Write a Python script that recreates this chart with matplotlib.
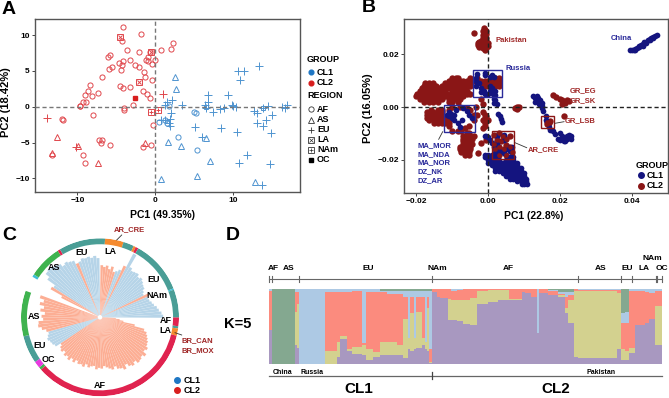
import numpy as np
import matplotlib
matplotlib.use("Agg")
import matplotlib.pyplot as plt
from matplotlib.patches import Rectangle

plt.rcParams['font.family'] = ['Liberation Sans', 'DejaVu Sans']
plt.rcParams['font.weight'] = 'bold'

W, H = 669, 398
C_BLUE, C_RED = "#4f94d0", "#e0474c"
NAVY, DRED = "#14147f", "#8a1616"
LBL_BLUE, LBL_RED = "#2a2a9a", "#a02828"

# ---------- Panel A values ----------
a_cl2_af_x = [-4.2,-1.8,-4.3,-3.6,-5.8,-6.1,-1.0,-0.7,-2.1,0.7,2.0,2.3,0,-3.2,-1.2,-0.9,-2.6,-4.6,-4.3,-4.1,-5.6,-6.0,-4.4,-2.1,-1.4,-0.4,-6.9,-8.4,-8.7,-9.0,-7.4,-8.1,-9.3,-8.9,-9.7,-8.0,-0.4,-1.6,-1.1,-0.7,-4.2,-4.5,-3.3,-2.8,-4.0,-4.0,-12.0,-11.9,-7.2,-6.8,-7.0,-5.8,-0.5,-1.6,-9.3,-9.0,-13.3,-0.3,-9.7,-1.3]
a_cl2_af_y = [11.1,10.1,9.2,8.0,7.3,7.0,7.0,7.7,7.6,7.9,8.1,8.9,6.5,6.5,6.6,6.4,5.9,6.1,5.8,6.4,5.6,5.3,5.2,5.6,4.9,6.0,4.1,3.1,2.2,1.7,1.9,1.5,0.7,0.6,0.1,-1.1,3.7,2.2,1.8,1.2,2.6,2.9,2.7,0.3,-0.2,-0.4,-1.7,-1.9,-4.7,-4.6,-5.1,-5.4,-5.3,-5.6,-6.8,-7.8,-6.8,-2.5,0.1,4.2]
a_cl2_as_x = [-12.6,-7.4,-1.3,-9.9,-13.2]
a_cl2_as_y = [-4.2,-7.9,-5.0,-5.5,-6.4]
a_cl2_eu_x = [-13.9,-10.2,1.0]
a_cl2_eu_y = [-1.5,-5.6,1.8]
a_cl2_la_x = [-4.5,-2.1,-0.6]
a_cl2_la_y = [9.7,3.4,7.7]
a_cl2_nam_x = [-0.6,0.3]
a_cl2_nam_y = [-0.7,-0.5]
a_cl2_oc_x = [-2.6]
a_cl2_oc_y = [1.2]
a_cl1_af_x = [0.5,1.2,1.5,2.9,5.4,5.2,5.0,1.8]
a_cl1_af_y = [-2.1,-1.9,-2.2,-4.2,-6.1,-0.85,-0.75,0.1]
a_cl1_as_x = [2.5,2.6,1.6,3.3,6.5,7.0,0.7,5.4,12.8]
a_cl1_as_y = [4.2,2.5,-4.9,-5.5,-4.4,-7.6,-10.1,-9.7,-10.5]
a_cl1_eu_x = [10.6,11.4,13.3,10.9,9.3,6.8,6.7,6.4,6.5,7.4,8.3,8.8,9.8,10,10.4,12.6,13.1,13.8,14.4,16.3,16.7,16.9,15,14.2,13.1,13.8,14.8,10.5,8.4,5.1,6.0,11.8,10.7,14.7,13.7,2.2,1.5,1.3,3.4,2.0,1.9,1.9,1.2,0.7,1.7]
a_cl1_eu_y = [5.0,5.0,5.7,3.7,1.6,1.6,0.7,0.3,-0.2,-0.7,-0.3,-0.1,0.3,0.1,0,-0.6,-0.9,-0.1,0.1,0,-0.1,0.3,-1.2,-1.9,-2.2,-2.7,-3.7,-3.5,-2.9,-2.8,-4.2,-6.7,-7.9,-8.0,-10.9,0.9,0.7,0.3,0.3,-0.8,-1.7,-2.7,-1.9,-1.8,-2.3]
a_cl1_nam_x = [13.8,6.5]
a_cl1_nam_y = [-0.1,0.0]
a_xticks = [-10,0,10]
a_yticks = [-10,-5,0,5,10]

# ---------- Panel B values (in thousandths) ----------
b_red_rows = {
 11:[-10,-9,-8.5,-5,-3,1,2,3], 10:[-11,-10,-9,-8,-7,-6,-5,-4,-2,-1,0,1,2,3],
 9:[-17.5,-16.5,-15.5,-12,-11,-10,-9,-8,-7,-6,-5,-2,-1,0,1,2,3],
 8:[-18,-17,-16,-15,-14.5,-13,-12,-11,-10,-9,-8,-7,-6,-5,-1,0,1,2,3],
 7:[-18.5,-17.5,-16.5,-15.5,-14.5,-13.5,-12,-11,-10,-9,-8,-7],
 6:[-19,-18,-17,-16,-15,-14,-13,-12,-10,-9,-8,-7,-6],
 5:[-19.8,-18.5,-17.5,-16.5,-15.5,-14.5,-13.5,-12.5,-11.5,-10.5,-9,-8,-7,-6,-5],
 4:[-20,-19,-18,-17,-16,-15,-14,-13,-12,-11,-10,-9,-7],
 3:[-19,-18,-17,-16,-15,-14,-13,-11,-10,-9,-8],
 2:[-18,-16.5,-15.5,-14,-11,-10,-8.5],
 -1:[-16,-14,-13], -2:[-17,-15.5,-14,-12.8], -3:[-17,-16,-15,-14,-13],
 -4:[-17,-16,-15,-14,-13,-12], -5:[-16.5,-15,-14,-13,-12], -6:[-15,-14,-13,-12,-11],
 -10:[-6,-5.5], -11:[-7,-6,-5,-4], -12:[-7,-6,-5.5,-4.5], -13:[-7,-6,-5],
 -14:[-7,-6,-5,-4.5], -15:[-8,-7,-6,-5], -16:[-8,-7,-6,-5], -17:[-7.5,-6.5,-5.5], -18:[-6.5,-5.5],
}
b_red_x = [-11,-10,-8,-6,-5,-4,-4,-5.5,-6.5,-7.5,-8.5,-10,-11,-11,-1.5,-1,-0.5,-1,-1.5,-1,0,-1,-1.5,-1.5,-2,-3.5,-3,
           -1.2,-1,-1.5,-0.7,-1.3,-0.6,-1.4,-0.8,-1.5,-0.5,-1.2,-2,-0.6,-2.6,-1.5,-0.5,-2.8,-1.8,-0.9,0,-2.9,-2,-1,0,-2.6,-1.5,-0.5,-1,-3.9,
           7.5,8,8.5,8,8, 18,19,20,20.5,21,22,21.5,20.5,22.5,21,
           1.5,3,4,5,6,2.5,3.5,1.5,5,3,4.5,6,2,6.5,3,5,16.5,17,16.5,17.2,-2.8,-1.9,-0.5]
b_red_y = [-1,0,0,-0.5,-1,-3,-5,-7,-8,-9,-9,-9,-7,-5,-2,-3,-3.5,-4,-5,-6,-5,-7,-8,1,3,0,-3,
           29.8,29,28.5,28.5,27.8,27.5,27,26.5,26,26,25.5,25,25,24.5,24.5,24.2,24,23.8,23.8,24,23.3,23,23,23,22.5,22.3,22.2,21.7,27.8,
           -0.3,0,0,-0.8,-0.5, 4.7,3.8,3.2,2.5,2,2.8,1.5,1.2,2.3,-3.3,
           -10.5,-10,-11,-12,-11,-12.5,-13,-14,-14.5,-15,-16,-15,-16,-17,-18,-18,-5.5,-6,-6.5,-5.2,-17.5,-13.7,-12.5]
b_blue_rows = {
 -18:[-1,0,1], -19:[-1,0,1,2,6,7], -20:[0,1,2,3,5,6,7], -21:[0,1,2,3,4,5,6,7,8],
 -22:[1,2,3,4,5,6,7,8], -23:[2,3,4,5,6,7,8,9], -24:[2,3,4,5,6,7,8,9], -25:[4,5,6,7,8,9,10],
 -26:[5,6,7,8,9,10], -27:[6,7,8,9,10,10.5], -28:[8,9,10,10.5], -29:[9.5,10,10.7],
}
b_blue_x = [39.5,40,40.5,41,41.5,42,42.5,43,43.5,44,44.5,45,45.5,46,46.5,47,43,44,45,46,42,41,
            -3.5,-3,-3.5,-2.5,-3.3,-1,-1,0.5,1,1.5,-2,-2,-1,0,0.5,1,0.5,1.2,1.8,2,-1.2,
            1.5,2,1.5,2.3,3.2,3.5,3.7,2.8,
            -11.5,-11,-11,-10.5,-10,-10,-9.5,-8.5,-8,-9,-7,-6,-5.5,-4.5,-7.2,-9.5,
            12.5,13,13.5,14,14.5,13,14,15,14.2,15,15,15.3,16,16,17,17.3,18,18.5,20,20.5,21,21,22,22,22.5,23.2,23,21.5,19.5,20,
            -1,-0.5,0,0.5,1,1.5,2.5,4.5,4.5,5.5,3,4,2,4.5,6,2.5,6.5,5]
b_blue_y = [21.4,21.5,21.7,22,22.3,22.7,23.4,23.8,24.5,24.7,25.3,25.7,26,26.3,26.8,27.1,23.2,24.2,25.2,26,23.2,21.7,
            11,12.5,10,9,8,12.8,12,11.5,12,11.5,7,5.5,5,5,6,7,8,5,6,4.5,6,
            3,2.5,1.5,1,-3.5,-4.5,-5.5,-2.5,
            -3,-2,-3.5,-2.5,-4,-3,-5,-6,-7.5,-1,-0.5,-1.5,-3,-4,-5,-3,
            4,3.5,4.2,3.5,2.5,2,2,1.5,1,0.5,-0.5,-1.5,-3.5,-5,-7.5,-8.5,-9,-10.3,-10,-11,-12,-13,-11,-12,-10.5,-11,-12,-13,-12,-12.5,
            -11,-11,-11.5,-12.5,-13.5,-15,-11,-10.5,-12.5,-15,-16.5,-17,-17.5,-17.5,-16.5,-14,-15,-16]
b_xticks = [-0.02,0,0.02,0.04]
b_xticklabels = ["\u22120.02","0.00","0.02","0.04"]
b_yticks = [-0.02,0,0.02]
b_yticklabels = ["\u22120.02","0.00","0.02"]

# ---------- Panel C values ----------
fan_blue_deg = [1,4,7,10,13,16,19,22,28,31,34,37,40,43,46,49,52,55,58,61,67,70,92,95,98,101,104,107,110,116,119,122,125,128,131,134,137,140,143,146,197,200,203,206,209,212]
fan_blue_len = [.80,.78,.75,.73,.70,.68,.66,.65,.62,.64,.67,.68,.70,.72,.70,.73,.72,.71,.74,.91,.65,.62,.75,.78,.76,.78,.77,.78,.75,.79,.80,.82,.80,.84,.86,.88,.89,.88,.82,.70,.68,.70,.72,.70,.69,.67]
fan_red_deg = [25,64,73,76,79,82,85,88,113,149,152,161,164,167,170,173,176,179,182,185,188,191,194,
               215,218,221,224,227,230,233,236,239,242,245,248,251,254,257,260,263,266,269,272,275,278,
               281,284,287,290,293,296,299,302,305,308,311,314,317,320,323,326,329,332,335,338,341,344,347,350,353,356]
fan_red_len = [.68,.72,.60,.66,.62,.66,.64,.66,.74,.72,.55,.80,.74,.78,.72,.76,.70,.74,.72,.78,.79,.75,.70,
               .60,.63,.65,.62,.66,.64,.67,.63,.66,.62,.65,.64,.66,.62,.65,.63,.62,.66,.64,.65,.62,.64,
               .66,.68,.65,.69,.70,.73,.68,.72,.74,.71,.75,.74,.72,.75,.70,.72,.69,.68,.66,.64,.62,.58,.45,.30,.25,.20]
ring_start = [0,-6.5,-8.2,-13.5,-138.5,-140.5,-145.5,-166,149,147,122.4,120.5,86.3,72.6,64.7,63,61,21.5,20.5]
ring_end   = [-6.5,-8.2,-13.5,-138.5,-140.5,-145.5,-166,-199.6,147,122.4,120.5,86.3,72.6,64.7,63,61,21.5,20.5,0]
ring_color = ["#e0234f","#4a9e96","#f58a2e","#e0234f","#3fb34f","#e83be0","#4a9e96","#3fb34f","#3fc0d8","#3fb34f","#e0234f","#4a9e96","#f58a2e","#4a9e96","#f58a2e","#e0234f","#4a9e96","#3fc0d8","#4a9e96"]

# ---------- Panel D values: sample edges and cumulative tops ----------
d_edges = [87,96,165,170,176,255,290,300,320,335,365,378,400,420,440,470,490,503,510,522,528,545,555,560,567,575,
           590,600,625,632,650,670,690,712,745,775,808,845,855,872,890,897,912,925,955,975,985,1003,1015,1130,1143,1155,1168,1185,1215,1228,1245,1266]
d_purple = [.46,0,.26,.22,0,.01,.10,.33,.18,.14,.13,.06,.10,.12,.13,.12,.08,.20,.18,.20,.22,.25,.20,.18,.02,
            .96,.90,.88,.59,.59,.57,.54,.52,.80,.83,.85,.85,.96,.95,.90,.41,.95,.95,.92,.90,.68,.55,.10,.08,.20,.06,.06,.15,.52,.55,.60,.25]
d_olive  = [.46,0,.70,.80,0,.17,.30,.38,.20,.23,.26,.20,.16,.30,.30,.26,.60,.35,.68,.35,.70,.35,.30,.75,.03,
            .96,.90,.88,.87,.85,.85,.86,.88,.98,.99,.99,.87,.96,.95,.90,.41,.95,.95,.92,.92,.75,.85,.98,.97,.95,.20,.18,.22,.52,.55,.60,.78]
d_salmon = [.97,0,.96,.96,0,.96,.96,.96,.96,.97,.28,.96,.96,.96,.94,.94,.90,.35,.90,.35,.90,.90,.30,.90,.20,
            1,1,1,1,.98,.99,1,1,1,1,1,1,1,1,1,.41,1,1,.97,.94,.90,.92,1,.99,.99,.55,.55,.98,.97,.96,.95,.97]
d_blue   = [1,0,1,1,1,1,1,1,1,1,1,1,1,.98,.97,.97,.97,.97,.97,.97,.97,.97,.97,.97,.98,
            1,1,1,1,1,1,1,1,1,1,1,1,1,1,1,1,1,1,.99,.96,.96,.96,1,1,1,.68,.70,1,1,1,1,1]
d_colors = ["#a898c0","#d3d18f","#fb8b7e","#adc9e4","#84a890"]
d_top_ticks = [87,96,177,577,1015,1143,1177,1248,1252,1266]

# ---------- drawing ----------
fig = plt.figure(figsize=(W/100, H/100), dpi=100, facecolor="white")
def rect(x0, y0, x1, y1):
    return [x0/W, 1-y1/H, (x1-x0)/W, (y1-y0)/H]

def frame(ax):
    for s in ax.spines.values():
        s.set_color("#555555"); s.set_linewidth(1)
    ax.tick_params(length=2, width=.7, color="#444444", labelsize=6, pad=1.5)
    ax.axhline(0, color="#777777" if ax is axa else "#222222", ls=(0,(3,2)), lw=1.0, zorder=5)
    ax.axvline(0, color="#777777" if ax is axa else "#222222", ls=(0,(3,2)), lw=1.0, zorder=5)

# A
axa = fig.add_axes(rect(34.5,19,299.5,192))
axa.set_xlim(-15.5,18.5); axa.set_ylim(-11.9,12.26)
frame(axa)
axa.set_xticks(a_xticks); axa.set_yticks(a_yticks)
ms = 3.7; mew = .7
def op(ax, x, y, m, c, size=ms):
    ax.plot(x, y, ls='', marker=m, mfc='none', mec=c, ms=size, mew=mew, zorder=3)
op(axa,a_cl2_af_x,a_cl2_af_y,'o',C_RED); op(axa,a_cl2_as_x,a_cl2_as_y,'^',C_RED,4.2); op(axa,a_cl2_eu_x,a_cl2_eu_y,'+',C_RED,5.5)
op(axa,a_cl2_la_x,a_cl2_la_y,'s',C_RED); op(axa,a_cl2_la_x,a_cl2_la_y,'x',C_RED,2.6)
op(axa,a_cl2_nam_x,a_cl2_nam_y,'s',C_RED); op(axa,a_cl2_nam_x,a_cl2_nam_y,'+',C_RED,3)
axa.plot(a_cl2_oc_x,a_cl2_oc_y,ls='',marker='s',color="#d81e1e",ms=3)
op(axa,a_cl1_af_x,a_cl1_af_y,'o',C_BLUE); op(axa,a_cl1_as_x,a_cl1_as_y,'^',C_BLUE,4.2); op(axa,a_cl1_eu_x,a_cl1_eu_y,'+',C_BLUE,5.5)
op(axa,a_cl1_nam_x,a_cl1_nam_y,'s',C_BLUE,2.5)

# B
def expand(rows):
    xs, ys = [], []
    for y, vals in rows.items():
        for v in vals:
            xs.append(v); ys.append(y)
    return xs, ys
axb = fig.add_axes(rect(404.3,19.3,668,193.3))
axb.set_xlim(-0.0234,0.0501); axb.set_ylim(-0.03257,0.0331)
frame(axb)
axb.set_xticks(b_xticks, b_xticklabels); axb.set_yticks(b_yticks, b_yticklabels)
rx, ry = expand(b_red_rows); bx, by = expand(b_blue_rows)
axb.scatter(np.array(rx+b_red_x)*1e-3, np.array(ry+b_red_y)*1e-3, s=21, color=DRED, lw=0, zorder=3)
axb.scatter(np.array(bx+b_blue_x)*1e-3, np.array(by+b_blue_y)*1e-3, s=17, color=NAVY, lw=0, zorder=4)
axb.scatter(np.array(b_red_x[-23:-3])*1e-3, np.array(b_red_y[-23:-3])*1e-3, s=11, color=DRED, lw=0, zorder=4.5)

# C
axc = fig.add_axes(rect(21,238.3,179,396.3), projection='polar')
axc.set_ylim(0,1); axc.axis('off')
for d, l in zip(fan_blue_deg, fan_blue_len):
    axc.bar(np.radians(d), l-.03, width=np.radians(2.9), bottom=.03, color="#b6d4e8", lw=0)
for d, l in zip(fan_red_deg, fan_red_len):
    axc.bar(np.radians(d), l-.03, width=np.radians(2.9), bottom=.03, color="#fcae94", lw=0)
for s, e, c in zip(ring_start, ring_end, ring_color):
    axc.bar(np.radians((s+e)/2), .075, width=np.radians(abs(s-e)), bottom=.925, color=c, lw=0)

# D
axd = fig.add_axes(rect(269,289,662,364.3))
axd.set_xlim(87,1266); axd.set_ylim(0,1); axd.axis('off')
left = np.array(d_edges[:-1]); wid = np.diff(d_edges)
tops = [np.array(t) for t in (d_purple,d_olive,d_salmon,d_blue)] + [np.ones(len(left))]
base = np.zeros(len(left))
for t, c in zip(tops, d_colors):
    axd.bar(left, np.clip(t-base,0,None), width=wid, bottom=base, align='edge', color=c, lw=0)
    base = np.maximum(base, t)

# overlay in pixels
ov = fig.add_axes([0,0,1,1]); ov.set_xlim(0,W); ov.set_ylim(H,0); ov.axis('off'); ov.patch.set_alpha(0)
def T(x,y,s,size=6.5,color='black',ha='left',va='center',**k):
    ov.text(x,y,s,fontsize=size,color=color,ha=ha,va=va,**k)
for x,y,s in [(2,10,'A'),(362,8,'B'),(2,235,'C'),(226,235,'D')]:
    T(x,y,s,size=14)
T(163,215,'PC1 (49.35%)',7.5,ha='center'); T(6,102,'PC2 (18.42%)',8,ha='center',rotation=90)
T(534,216,'PC1 (22.8%)',7.5,ha='center'); T(368,108,'PC2 (16.05%)',8,ha='center',rotation=90)
# A legend
T(307,60,'GROUP'); T(317,72.3,'CL1'); T(317,82.7,'CL2')
ov.plot([311],[72.3],'o',color="#1f77c4",ms=3.4); ov.plot([311],[82.7],'o',color="#d81e1e",ms=3.4)
T(307,96,'REGION')
reg = [('AF','o',109.3),('AS','^',119.5),('EU','+',130),('LA','s',140),('NAm','s',150),('OC','s',160)]
for n,m,y in reg:
    T(317,y,n)
    if n=='OC': ov.plot([311],[y],'s',color='black',ms=3)
    else: ov.plot([311],[y],m,mfc='none',mec='#333333',ms=3.8 if m!='+' else 5,mew=.6)
ov.plot([311],[140],'x',color='#333333',ms=2.6,mew=.5); ov.plot([311],[150],'+',color='#333333',ms=3,mew=.5)
# B labels
for x,y,s in [(496,40.7,'Pakistan'),(570,91,'GR_EG'),(570,100.7,'GR_SK'),(565,121,'GR_LSB'),(528,150,'AR_CRE')]:
    T(x,y,s,5.5,LBL_RED)
for x,y,s in [(611,38.7,'China'),(505.7,68,'Russia'),(417.7,145.3,'MA_MOR'),(417.7,154.3,'MA_NDA'),(417.7,163,'MA_NOR'),(417.7,171.7,'DZ_NK'),(417.7,180.3,'DZ_AR')]:
    T(x,y,s,5.5,LBL_BLUE)
for x0,y0,x1,y1,c in [(472.7,69.7,501.7,97,'#2a2a9a'),(443.7,105.3,474.7,132.3,'#2a2a9a'),(492,131.3,514,158.7,DRED),(541,115.7,554.3,128.3,DRED)]:
    ov.add_patch(Rectangle((x0,y0),x1-x0,y1-y0,fill=False,ec=c,lw=1))
for x,y in [((442.7,438.7),(131.7,139.3)),((515,526.7),(142.7,147.7)),((555,564),(123.3,121.7))]:
    ov.plot(x,y,color='#333333',lw=.6)
T(635.7,165,'GROUP'); T(647,175.3,'CL1'); T(647,185.7,'CL2')
ov.plot([641],[175.3],'o',color=NAVY,ms=4); ov.plot([641],[185.7],'o',color=DRED,ms=4)
# C labels
for x,y,s in [(81.7,252.3,'EU'),(110.7,251.7,'LA'),(54.3,267.7,'AS'),(153.3,279,'EU'),(157.3,295,'NAm'),(165.7,320.7,'AF'),(165,330.7,'LA'),(34,316.7,'AS'),(40,345.7,'EU'),(48.3,359,'OC'),(99.3,385.7,'AF')]:
    T(x,y,s,6.5,ha='center')
T(114,230,'AR_CRE',5.5,LBL_RED); T(181,341,'BR_CAN',5.5,LBL_RED); T(181,350.3,'BR_MOX',5.5,LBL_RED)
ov.plot((121.7,116.7),(235,240),color='#333333',lw=.6); ov.plot((175,181.7),(332.7,335),color='#333333',lw=.6)
ov.plot([176.7],[380.3],'o',color="#1f77c4",ms=4); ov.plot([176.7],[390.3],'o',color="#d81e1e",ms=4)
T(184,380.3,'CL1'); T(184,390.3,'CL2')
# D labels
zx = lambda z: 240+z/3
ov.plot([269,662],[278.7,278.7],color='#666666',lw=.8)
for t in d_top_ticks:
    ov.plot([zx(t),zx(t)],[275.7,281.7],color='#666666',lw=.8)
for z,y,s in [(101,268,'AF'),(147,268,'AS'),(385,268,'EU'),(593,268,'NAm'),(805,268,'AF'),(1081,268,'AS'),(1162,268,'EU'),(1213,268,'LA'),(1238,258,'NAm'),(1266,268,'OC')]:
    T(zx(z),y,s,6,ha='center')
ov.plot([269,662],[375.7,375.7],color='#666666',lw=.9)
ov.plot([zx(577)]*2,[372,379],color='#444444',lw=.9)
for z,s in [(127,'China'),(216,'Russia'),(1083,'Pakistan')]:
    T(zx(z),372,s,5,ha='center')
T(359,389,'CL1',11,ha='center'); T(556,389,'CL2',11,ha='center')
T(224,324,'K=5',10.5)
fig.savefig("out.png",dpi=100)
